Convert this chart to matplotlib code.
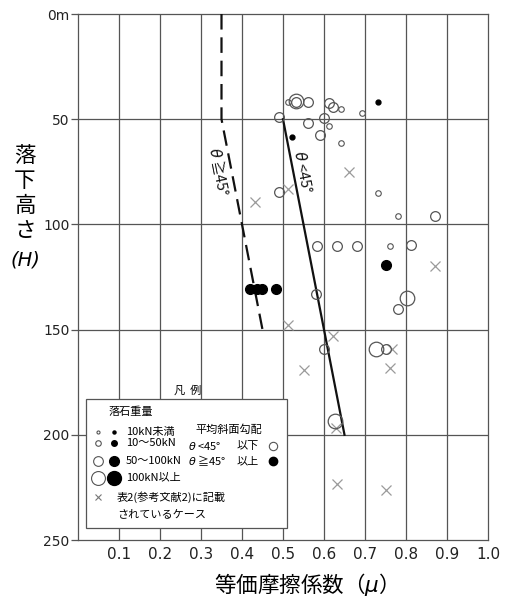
import matplotlib
matplotlib.use("Agg")
import matplotlib.pyplot as plt
from matplotlib.patches import Rectangle

plt.rcParams['font.family'] = ['Noto Sans CJK JP', 'DejaVu Sans']

# --- data (mu, H) ---
# open circles: slope theta < 45 deg
open_small_mu = [0.511, 0.641, 0.692, 0.611, 0.641, 0.731, 0.781, 0.761]
open_small_h = [41.7, 45.2, 47.0, 53.3, 61.3, 84.9, 96.0, 110.3]

open_mid_mu = [0.532, 0.562, 0.611, 0.623, 0.491, 0.601, 0.562, 0.590, 0.491,
               0.871, 0.582, 0.631, 0.681, 0.811, 0.580, 0.781, 0.600, 0.750]
open_mid_h = [42.0, 41.7, 42.5, 44.1, 48.9, 49.2, 52.0, 57.6, 84.6,
              96.0, 110.5, 110.5, 110.5, 110.0, 133.3, 140.0, 159.2, 159.2]

open_big_mu = [0.532, 0.802, 0.728, 0.627]
open_big_h = [41.3, 135.0, 159.2, 193.3]

# filled dots: slope theta >= 45 deg
fill_small_mu = [0.731, 0.521]
fill_small_h = [42.0, 58.4]

fill_mid_mu = [0.750, 0.420, 0.436, 0.448, 0.483]
fill_mid_h = [119.2, 130.6, 130.6, 130.6, 130.6]

# cases from table 2 (ref. 2)
cross_mu = [0.662, 0.513, 0.432, 0.871, 0.511, 0.621, 0.765, 0.552, 0.762, 0.630, 0.631, 0.750]
cross_h = [75.1, 83.0, 89.4, 120.0, 147.8, 152.9, 159.2, 169.2, 168.2, 197.0, 223.2, 226.3]

# boundary lines
line_lt45_mu = [0.50, 0.65]
line_lt45_h = [50, 200]
line_ge45_mu = [0.35, 0.35, 0.45]
line_ge45_h = [0, 50, 150]

x_ticks = [0.1, 0.2, 0.3, 0.4, 0.5, 0.6, 0.7, 0.8, 0.9, 1.0]
x_labels = ["0.1", "0.2", "0.3", "0.4", "0.5", "0.6", "0.7", "0.8", "0.9", "1.0"]
y_ticks = [0, 50, 100, 150, 200, 250]
y_labels = ["0m", "50", "100", "150", "200", "250"]

fig = plt.figure(figsize=(5.07, 5.99), dpi=100)
ax = fig.add_axes([78 / 507, 1 - 540 / 599, 410 / 507, 526 / 599])

ax.set_xlim(0, 1.0)
ax.set_ylim(250, 0)

# grid
grid_c = "#555555"
for xv in x_ticks[:-1]:
    ax.axvline(xv, color=grid_c, lw=0.9, zorder=1)
for yv in [50, 100, 150, 200]:
    ax.axhline(yv, color=grid_c, lw=0.9, zorder=1)
for s in ax.spines.values():
    s.set_color(grid_c)
    s.set_linewidth(0.9)

ax.set_xticks(x_ticks)
ax.set_xticklabels(x_labels, fontsize=11, color="#222222", family="DejaVu Sans")
ax.tick_params(axis='x', length=0, pad=5)
ax.set_yticks(y_ticks)
ax.set_yticklabels(y_labels, fontsize=10, color="#222222", family="DejaVu Sans")
ax.tick_params(axis='y', length=5, width=0.9, color=grid_c, pad=1)

# lines
ax.plot(line_lt45_mu, line_lt45_h, color="#111111", lw=1.6, zorder=3)
ax.plot(line_ge45_mu, line_ge45_h, color="#111111", lw=1.6, dashes=(7, 3.5), zorder=3)

ax.text(0.549, 75, r"$\theta$ <45°", rotation=-79, ha="center", va="center",
        fontsize=10.5, color="#111111", zorder=4, rotation_mode="anchor")
ax.text(0.344, 75, r"$\theta$ ≧45°", rotation=-79, ha="center", va="center",
        fontsize=10.5, color="#111111", zorder=4, rotation_mode="anchor")

# points
oc = "#555555"
ax.plot(open_small_mu, open_small_h, 'o', ms=4, mfc="white", mec=oc, mew=0.8, ls="none", zorder=5)
ax.plot(open_mid_mu, open_mid_h, 'o', ms=7, mfc="none", mec=oc, mew=0.9, ls="none", zorder=5)
ax.plot(open_big_mu, open_big_h, 'o', ms=10.5, mfc="none", mec=oc, mew=0.9, ls="none", zorder=5)
ax.plot(fill_small_mu, fill_small_h, 'o', ms=3.5, color="black", ls="none", zorder=5)
ax.plot(fill_mid_mu, fill_mid_h, 'o', ms=7, color="black", ls="none", zorder=5)
ax.plot(cross_mu, cross_h, 'x', ms=6.5, mew=0.9, color="#9a9a9a", ls="none", zorder=4)

# legend box (hand made, like the reference)
T = ax.transAxes
fs = 8
ax.add_patch(Rectangle((0.0195, 0.0228), 0.4903, 0.2452, transform=T,
                       facecolor="white", edgecolor=grid_c, lw=0.9, zorder=6))
ax.text(0.268, 0.285, "凡  例", transform=T, ha="center", va="center", fontsize=fs, zorder=7)
ax.text(0.0756, 0.2433, "落石重量", transform=T, ha="left", va="center", fontsize=fs, zorder=7)

rows_y = [0.2059, 0.1838, 0.1502, 0.1184]
row_txt = ["10kN未満", "10～50kN", "50～100kN", "100kN以上"]
open_ms = [2.2, 4, 7, 10]
fill_ms = [2.2, 4, 7, 10]
for yy, tt, mo, mf in zip(rows_y, row_txt, open_ms, fill_ms):
    ax.plot([0.0495], [yy], 'o', ms=mo, mfc="white", mec=oc, mew=0.8, transform=T, zorder=7, clip_on=False)
    ax.plot([0.0885], [yy], 'o', ms=mf, color="black", transform=T, zorder=7, clip_on=False)
    ax.text(0.117, yy, tt, transform=T, ha="left", va="center", fontsize=fs, zorder=7)

ax.plot([0.0495], [0.0812], 'x', ms=5, mew=0.8, color="#777777", transform=T, zorder=7)
ax.text(0.0944, 0.0812, "表2(参考文献2)に記載", transform=T, ha="left", va="center", fontsize=fs, zorder=7)
ax.text(0.0944, 0.0494, "されているケース", transform=T, ha="left", va="center", fontsize=fs, zorder=7)

ax.text(0.2854, 0.209, "平均斜面勾配", transform=T, ha="left", va="center", fontsize=fs, zorder=7)
ax.text(0.268, 0.179, r"$\theta$ <45°", transform=T, ha="left", va="center", fontsize=fs, zorder=7)
ax.text(0.387, 0.179, "以下", transform=T, ha="left", va="center", fontsize=fs, zorder=7)
ax.plot([0.476], [0.179], 'o', ms=6, mfc="white", mec=oc, mew=0.8, transform=T, zorder=7)
ax.text(0.268, 0.150, r"$\theta$ ≧45°", transform=T, ha="left", va="center", fontsize=fs, zorder=7)
ax.text(0.387, 0.150, "以上", transform=T, ha="left", va="center", fontsize=fs, zorder=7)
ax.plot([0.476], [0.150], 'o', ms=6, color="black", transform=T, zorder=7)

# axis titles
fig.text(300 / 507, 1 - 585 / 599, "等価摩擦係数（$\\mu$）", ha="center", va="center", fontsize=15.5)
for i, ch in enumerate("落下高さ"):
    fig.text(25 / 507, 1 - (156 + 25 * i) / 599, ch, ha="center", va="center", fontsize=15.5)
fig.text(25 / 507, 1 - 260 / 599, "(H)", ha="center", va="center", fontsize=14,
         family="DejaVu Sans", style="italic")

fig.savefig("out.png", dpi=100)
